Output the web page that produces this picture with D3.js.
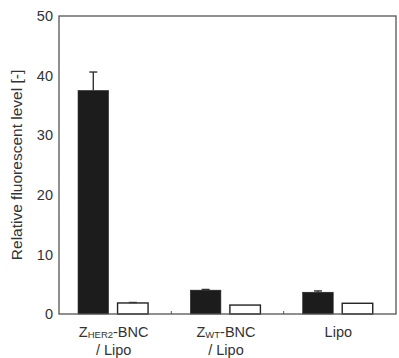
<!DOCTYPE html>
<html>
<head>
<meta charset="utf-8">
<script src="https://cdn.jsdelivr.net/npm/d3@7/dist/d3.min.js"></script>
<style>
  body { margin: 0; background: #fff; }
  svg { display: block; font-family: "Liberation Sans", Arial, sans-serif; }
</style>
</head>
<body>
<div id="chart"></div>
<script>
// categories and series
const categories = ['her2', 'wt', 'lipo'];
const series = ['filled', 'open'];
const filledValues = [37.5, 4.0, 3.65];
const filledErrors = [3.1, 0.12, 0.22];
const openValues = [1.85, 1.5, 1.8];
const openErrors = [0.08, 0, 0];
const yTicks = [0, 10, 20, 30, 40, 50];

const width = 399, height = 358;
const margin = { top: 16, right: 3, bottom: 44, left: 59 };

const svg = d3.select('#chart').append('svg')
  .attr('width', width)
  .attr('height', height);

const x0 = d3.scaleBand()
  .domain(categories)
  .range([margin.left, width - margin.right])
  .padding(0);

const x1 = d3.scaleBand()
  .domain(series)
  .range([0, x0.bandwidth()])
  .paddingInner(0.228)
  .paddingOuter(0.535)
  .align(0.45);

const y = d3.scaleLinear()
  .domain([0, 50])
  .range([height - margin.bottom, margin.top]);

// data rows
const rows = [];
categories.forEach((c, i) => {
  rows.push({ cat: c, s: 'filled', v: filledValues[i], e: filledErrors[i] });
  rows.push({ cat: c, s: 'open', v: openValues[i], e: openErrors[i] });
});

// bars
svg.append('g').selectAll('rect')
  .data(rows)
  .join('rect')
  .attr('x', d => x0(d.cat) + x1(d.s))
  .attr('y', d => y(d.v))
  .attr('width', x1.bandwidth())
  .attr('height', d => y(0) - y(d.v))
  .attr('fill', d => d.s === 'filled' ? '#1c1c1c' : '#fff')
  .attr('stroke', '#222')
  .attr('stroke-width', d => d.s === 'filled' ? 0.6 : 1.4);

// error bars (upper only)
const eb = svg.append('g').attr('stroke', '#333').attr('stroke-width', 1.4);
rows.filter(d => d.e > 0).forEach(d => {
  const cx = x0(d.cat) + x1(d.s) + x1.bandwidth() / 2;
  eb.append('line')
    .attr('x1', cx).attr('x2', cx)
    .attr('y1', y(d.v)).attr('y2', y(d.v + d.e));
  eb.append('line')
    .attr('x1', cx - 4).attr('x2', cx + 4)
    .attr('y1', y(d.v + d.e)).attr('y2', y(d.v + d.e));
});

// frame
svg.append('rect')
  .attr('x', margin.left)
  .attr('y', margin.top)
  .attr('width', width - margin.right - margin.left)
  .attr('height', y(0) - margin.top)
  .attr('fill', 'none')
  .attr('stroke', '#555')
  .attr('stroke-width', 1.3);

// y axis
const yAxis = svg.append('g')
  .attr('transform', `translate(${margin.left},0)`)
  .call(d3.axisLeft(y).tickValues(yTicks).tickSize(0).tickPadding(6));
yAxis.select('.domain').remove();
yAxis.selectAll('text')
  .attr('font-size', 14.5)
  .attr('fill', '#333')
  .attr('font-family', '"Liberation Sans", Arial, sans-serif');

// x category boundary ticks
svg.append('g').selectAll('line')
  .data(categories.slice(1))
  .join('line')
  .attr('x1', d => x0(d)).attr('x2', d => x0(d))
  .attr('y1', y(0)).attr('y2', y(0) - 3)
  .attr('stroke', '#555');

// x labels
const lbl = svg.append('g')
  .attr('font-size', 14.5)
  .attr('fill', '#333')
  .attr('text-anchor', 'middle');

function center(c) { return x0(c) + x0.bandwidth() / 2 - 1.5; }

const t1 = lbl.append('text').attr('x', center('her2')).attr('y', 337);
t1.append('tspan').text('Z');
t1.append('tspan').attr('font-size', 9.5).attr('dy', 1).text('HER2');
t1.append('tspan').attr('dy', -1).text('-BNC');
lbl.append('text').attr('x', center('her2')).attr('y', 354.5).text('/ Lipo');

const t2 = lbl.append('text').attr('x', center('wt')).attr('y', 337);
t2.append('tspan').text('Z');
t2.append('tspan').attr('font-size', 9.5).attr('dy', 1).text('WT');
t2.append('tspan').attr('dy', -1).text('-BNC');
lbl.append('text').attr('x', center('wt')).attr('y', 354.5).text('/ Lipo');

lbl.append('text').attr('x', center('lipo')).attr('y', 337).text('Lipo');

// y title
svg.append('text')
  .attr('transform', `translate(22,${(margin.top + y(0)) / 2}) rotate(-90)`)
  .attr('text-anchor', 'middle')
  .attr('font-size', 15.5)
  .attr('fill', '#333')
  .text('Relative fluorescent level [-]');
</script>
</body>
</html>
